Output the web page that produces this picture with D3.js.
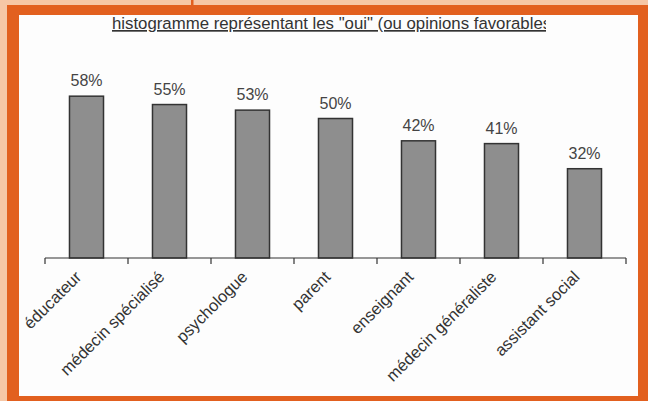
<!DOCTYPE html>
<html>
<head>
<meta charset="utf-8">
<script src="https://cdn.jsdelivr.net/npm/d3@7"></script>
<style>
  html, body { margin: 0; padding: 0; background: #f6c7a6; }
  svg { display: block; }
</style>
</head>
<body>
<svg id="chart"></svg>
<script>
const categories = ["éducateur", "médecin spécialisé", "psychologue", "parent", "enseignant", "médecin généraliste", "assistant social"];
const values = [58, 55, 53, 50, 42, 41, 32];
const valueLabels = ["58%", "55%", "53%", "50%", "42%", "41%", "32%"];
const title = "histogramme représentant les \"oui\" (ou opinions favorables)";

const width = 648, height = 401;
const svg = d3.select("#chart").attr("width", width).attr("height", height);

// frame: peach page, orange border, white panel
svg.append("rect").attr("width", width).attr("height", height).attr("fill", "#f6c7a6");
svg.append("rect").attr("x", 191).attr("y", 0).attr("width", 2.5).attr("height", 8).attr("fill", "#e2601f");
svg.append("rect").attr("x", 7).attr("y", 5).attr("width", width - 7).attr("height", height - 5).attr("fill", "#e2601f");
svg.append("rect").attr("x", 19).attr("y", 15).attr("width", 619).attr("height", 381).attr("fill", "#fdfdfd");

// title, clipped on the right like the original
const defs = svg.append("defs");
defs.append("clipPath").attr("id", "title-clip")
  .append("rect").attr("x", 19).attr("y", 15).attr("width", 527).attr("height", 30);

svg.append("text")
  .attr("clip-path", "url(#title-clip)")
  .attr("x", 112).attr("y", 29)
  .attr("font-family", "Liberation Sans, Arial, sans-serif")
  .attr("font-size", 16.8)
  .attr("fill", "#333")
  .attr("text-decoration", "underline")
  .text(title);

const x = d3.scaleBand().domain(categories).range([45, 626]).paddingInner(0.59).paddingOuter(0.295);
const y = d3.scaleLinear().domain([0, 60]).range([258, 258 - 60 * 2.79]);

// bars
svg.selectAll(".bar")
  .data(values)
  .join("rect")
  .attr("class", "bar")
  .attr("x", (d, i) => x(categories[i]))
  .attr("y", d => y(d))
  .attr("width", x.bandwidth())
  .attr("height", d => y(0) - y(d))
  .attr("fill", "#8e8e8e")
  .attr("stroke", "#333")
  .attr("stroke-width", 1.5);

// value labels
svg.selectAll(".val")
  .data(values)
  .join("text")
  .attr("class", "val")
  .attr("x", (d, i) => x(categories[i]) + x.bandwidth() / 2)
  .attr("y", d => y(d) - 10)
  .attr("text-anchor", "middle")
  .attr("font-family", "Liberation Sans, Arial, sans-serif")
  .attr("font-size", 16)
  .attr("fill", "#444")
  .text((d, i) => valueLabels[i]);

// x axis: line with ticks between categories
const step = x.step();
const tickPos = d3.range(categories.length + 1).map(i => 45 + i * step);
const axis = svg.append("g");
axis.append("line")
  .attr("x1", 45).attr("x2", 626).attr("y1", y(0)).attr("y2", y(0))
  .attr("stroke", "#333").attr("stroke-width", 1.2);
axis.selectAll(".tick")
  .data(tickPos)
  .join("line")
  .attr("class", "tick")
  .attr("x1", d => d).attr("x2", d => d)
  .attr("y1", y(0)).attr("y2", y(0) + 6)
  .attr("stroke", "#333").attr("stroke-width", 1.2);

axis.selectAll(".cat")
  .data(categories)
  .join("text")
  .attr("class", "cat")
  .attr("text-anchor", "end")
  .attr("font-family", "Liberation Sans, Arial, sans-serif")
  .attr("font-size", 16.5)
  .attr("fill", "#333")
  .attr("transform", d => `translate(${x(d) + x.bandwidth() / 2 - 4},${y(0) + 20}) rotate(-45)`)
  .text(d => d);
</script>
</body>
</html>
